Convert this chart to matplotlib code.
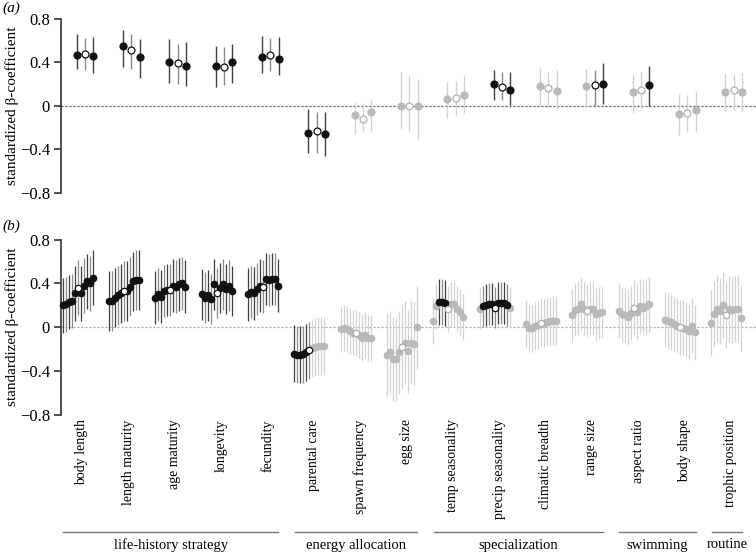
import matplotlib
matplotlib.use('Agg')
import matplotlib.pyplot as plt
import matplotlib.transforms as mtransforms
from matplotlib.lines import Line2D
import numpy as np

plt.rcParams['font.family'] = ['Liberation Serif', 'DejaVu Serif']

# ---------------- data ----------------
categories = ["body length", "length maturity", "age maturity", "longevity", "fecundity",
              "parental care", "spawn frequency", "egg size",
              "temp seasonality", "precip seasonality", "climatic breadth", "range size",
              "aspect ratio", "body shape", "trophic position"]

group_names = ["life-history strategy", "energy allocation", "specialization", "swimming", "routine"]
group_first = [0, 5, 8, 12, 14]
group_last = [4, 7, 11, 13, 14]

# panel (a): three estimates per trait
a_est = [[0.47, 0.48, 0.46], [0.545, 0.51, 0.45], [0.40, 0.39, 0.37], [0.37, 0.36, 0.40],
         [0.45, 0.47, 0.43], [-0.25, -0.23, -0.255], [-0.085, -0.12, -0.06], [0.0, 0.0, 0.0],
         [0.06, 0.07, 0.10], [0.205, 0.17, 0.15], [0.185, 0.16, 0.14], [0.18, 0.19, 0.205],
         [0.125, 0.145, 0.195], [-0.075, -0.065, -0.035], [0.125, 0.145, 0.125]]
a_lo = [[0.34, 0.33, 0.30], [0.36, 0.34, 0.26], [0.21, 0.20, 0.18], [0.17, 0.19, 0.21],
        [0.30, 0.32, 0.28], [-0.435, -0.435, -0.46], [-0.255, -0.24, -0.24], [-0.21, -0.235, -0.31],
        [-0.11, -0.08, -0.07], [0.05, 0.05, 0.01], [0.0, -0.02, -0.035], [-0.005, 0.0, 0.02],
        [-0.07, -0.02, 0.0], [-0.265, -0.24, -0.24], [-0.05, -0.035, -0.05]]
a_hi = [[0.66, 0.62, 0.63], [0.70, 0.655, 0.61], [0.61, 0.57, 0.585], [0.545, 0.54, 0.57],
        [0.645, 0.62, 0.635], [-0.025, -0.06, -0.06], [0.035, 0.03, 0.065], [0.31, 0.27, 0.25],
        [0.22, 0.23, 0.27], [0.33, 0.31, 0.31], [0.35, 0.31, 0.33], [0.34, 0.33, 0.39],
        [0.29, 0.31, 0.37], [0.11, 0.10, 0.14], [0.30, 0.29, 0.30]]
a_style = [['k', 'wk', 'k']] * 6 + [['g', 'wg', 'g']] * 3 + [['k', 'wk', 'k'], ['g', 'wg', 'g'],
           ['g', 'wk', 'k'], ['g', 'wg', 'k'], ['g', 'wg', 'g'], ['g', 'wg', 'g']]

# panel (b): eleven estimates per trait (middle one = open circle)
b_est = [[0.20, 0.21, 0.23, 0.24, 0.31, 0.36, 0.31, 0.38, 0.42, 0.40, 0.45],
         [0.24, 0.24, 0.27, 0.29, 0.31, 0.33, 0.33, 0.37, 0.42, 0.43, 0.43],
         [0.27, 0.30, 0.28, 0.33, 0.34, 0.34, 0.38, 0.37, 0.39, 0.40, 0.37],
         [0.30, 0.27, 0.29, 0.26, 0.39, 0.31, 0.36, 0.39, 0.35, 0.38, 0.33],
         [0.30, 0.32, 0.31, 0.35, 0.38, 0.37, 0.44, 0.43, 0.44, 0.44, 0.38],
         [-0.24, -0.25, -0.25, -0.245, -0.23, -0.21, -0.19, -0.18, -0.17, -0.17, -0.17],
         [-0.02, -0.01, -0.02, -0.03, -0.05, -0.05, -0.07, -0.10, -0.07, -0.10, -0.10],
         [-0.25, -0.23, -0.29, -0.29, -0.23, -0.18, -0.14, -0.22, -0.14, -0.15, 0.0],
         [0.06, 0.19, 0.23, 0.23, 0.22, 0.17, 0.21, 0.21, 0.17, 0.14, 0.09],
         [0.17, 0.19, 0.20, 0.21, 0.21, 0.18, 0.22, 0.22, 0.22, 0.20, 0.18],
         [0.03, -0.01, -0.01, 0.01, 0.02, 0.04, 0.04, 0.05, 0.06, 0.06, 0.06],
         [0.11, 0.16, 0.17, 0.21, 0.17, 0.15, 0.17, 0.17, 0.12, 0.13, 0.14],
         [0.15, 0.12, 0.11, 0.09, 0.13, 0.18, 0.14, 0.19, 0.18, 0.19, 0.21],
         [0.07, 0.055, 0.045, 0.03, 0.015, 0.0, -0.005, -0.02, -0.035, 0.015, -0.045],
         [0.04, 0.12, 0.17, 0.15, 0.20, 0.11, 0.17, 0.16, 0.17, 0.17, 0.08]]
b_halfwidth = [0.25, 0.27, 0.24, 0.23, 0.24, 0.26, 0.21, 0.38, 0.21, 0.19, 0.22, 0.24, 0.25, 0.25, 0.30]
b_style = ([['k'] * 5 + ['wk'] + ['k'] * 5] * 5 +
           [['k'] * 5 + ['wk'] + ['g'] * 5] +
           [['g'] * 5 + ['wg'] + ['g'] * 5] * 2 +
           [['g', 'g', 'k', 'k', 'k', 'wg', 'g', 'g', 'g', 'g', 'g'],
            ['g', 'k', 'k', 'k', 'k', 'wk', 'k', 'k', 'k', 'k', 'g']] +
           [['g'] * 5 + ['wg'] + ['g'] * 5] * 5)

# ---------------- drawing ----------------
W, H = 756, 553
fig = plt.figure(figsize=(W / 100, H / 100), dpi=100)
axA = fig.add_axes([61 / W, 1 - 193 / H, 695 / W, (193 - 18.7) / H])
axB = fig.add_axes([61 / W, 1 - 415 / H, 695 / W, (415 - 239.5) / H])

BLACK = '#111111'
GREY = '#b9b9b9'


def colours(code, alt=False):
    if code == 'k':
        return BLACK, BLACK, ('#8a8a8a' if alt else '#3f3f3f')
    if code == 'wk':
        return 'white', BLACK, '#8a8a8a'
    if code == 'g':
        return GREY, GREY, '#d2d2d2'
    return 'white', '#b0b0b0', '#d2d2d2'


def draw(ax, xs, est, lo, hi, styles, ms, lw):
    order = sorted(range(len(xs)), key=lambda k: (styles[k] in ('k', 'wk'), styles[k].startswith('w')))
    for k in order:
        fc, ec, bc = colours(styles[k], alt=(k % 2 == 1))
        ax.vlines(xs[k], lo[k], hi[k], colors=bc, lw=lw, zorder=2 + (styles[k] in ('k', 'wk')))
    for k in order:
        fc, ec, bc = colours(styles[k])
        z = 5 + (styles[k] in ('k', 'wk')) + 2 * styles[k].startswith('w')
        ax.plot([xs[k]], [est[k]], 'o', ms=ms, mfc=fc, mec=ec, mew=0.9, zorder=z, clip_on=False)


a_off = np.array([-0.18, 0.0, 0.18])
b_off = -0.158 + (np.arange(11) - 5) * 0.0647

for i in range(len(categories)):
    draw(axA, i + a_off, a_est[i], a_lo[i], a_hi[i], a_style[i], 5.0, 1.0)
    e = np.array(b_est[i])
    draw(axB, i + b_off, e, e - b_halfwidth[i], e + b_halfwidth[i], b_style[i], 4.6, 0.9)

for ax, zc in ((axA, '#555555'), (axB, '#a8a8a8')):
    ax.set_xlim(-0.518, 14.48)
    ax.set_ylim(-0.8, 0.8)
    ax.axhline(0, color=zc, lw=0.9, ls=(0, (1.6, 1.6)), zorder=1)
    for s in ('top', 'right', 'bottom'):
        ax.spines[s].set_visible(False)
    ax.spines['left'].set_bounds(-0.8, 0.8)
    ax.spines['left'].set_color('#333333')
    ax.spines['left'].set_linewidth(1.2)
    ax.set_yticks([-0.8, -0.4, 0, 0.4, 0.8])
    ax.set_yticklabels(['\u22120.8', '\u22120.4', '0', '0.4', '0.8'])
    ax.tick_params(axis='y', direction='out', length=5, width=1.2, color='#333333',
                   labelsize=12, pad=3)
    ax.patch.set_alpha(0)

axA.set_xticks([])
axB.set_xticks(np.arange(len(categories)) - 0.065)
axB.set_xticklabels(categories, rotation=90, fontsize=10, va='top', ha='center')
axB.tick_params(axis='x', length=0, pad=3)

# y-axis titles and panel letters
for ax, ytop, letter, ly in ((axA, 18.7, '(a)', 8), (axB, 239.5, '(b)', 226)):
    pos = ax.get_position()
    fig.text(12.5 / W, pos.y0 + pos.height / 2, 'standardized \u03b2-coefficient', rotation=90,
             ha='center', va='center', fontsize=11)
    fig.text(2 / W, 1 - ly / H, letter, style='italic', fontsize=11, ha='left', va='center')

# group brackets
trans = mtransforms.blended_transform_factory(axB.transData, fig.transFigure)
for name, f, l in zip(group_names, group_first, group_last):
    x0, x1 = f - 0.47, l + 0.175
    fig.add_artist(Line2D([x0, x1], [1 - 531.7 / H] * 2, transform=trans, color='#777777', lw=1.0))
    fig.text((x0 + x1) / 2, 1 - 545 / H, name, transform=trans, ha='center', va='center', fontsize=10.5)

fig.savefig('out.png', dpi=100)
